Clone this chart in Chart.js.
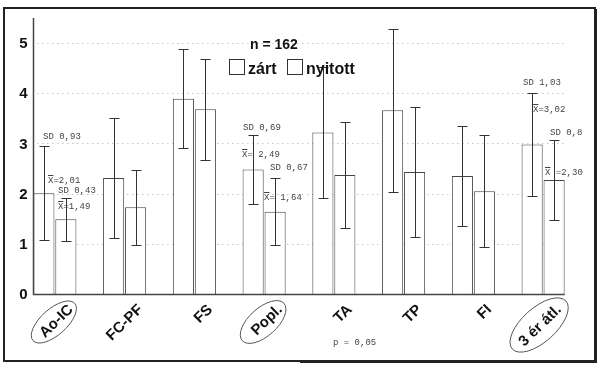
<!DOCTYPE html>
<html>
<head>
<meta charset="utf-8">
<script src="https://cdn.jsdelivr.net/npm/chart.js@4"></script>
<style>
  html, body { margin: 0; padding: 0; background: #fff; }
  #wrap { width: 600px; height: 371px; }
</style>
</head>
<body>
<div id="wrap"><canvas id="chart" width="600" height="371"></canvas></div>
<script>
const categories = ['Ao-IC', 'FC-PF', 'FS', 'Popl.', 'TA', 'TP', 'FI', '3 ér átl.'];
const circled = ['Ao-IC', 'Popl.', '3 ér átl.'];
const seriesNames = ['zárt', 'nyitott'];
const zartMean = [2.01, 2.31, 3.89, 2.48, 3.22, 3.66, 2.35, 2.98];
const zartSD = [0.93, 1.19, 0.99, 0.69, 1.31, 1.62, 1.00, 1.03];
const nyitottMean = [1.49, 1.73, 3.68, 1.64, 2.37, 2.43, 2.05, 2.27];
const nyitottSD = [0.43, 0.75, 1.01, 0.67, 1.05, 1.30, 1.12, 0.80];
const yTicks = [0, 1, 2, 3, 4, 5];
const sampleText = 'n = 162';
const pText = 'p = 0,05';

// text notes on the plot: [text, left x, middle y]; a leading "X" gets an overline
const notes = [
  ['SD 0,93', 43, 137], ['X=2,01', 48, 181], ['SD 0,43', 58, 191], ['X=1,49', 58, 207],
  ['SD 0,69', 243, 128], ['X= 2,49', 242, 155], ['SD 0,67', 270, 168], ['X= 1,64', 264, 198],
  ['SD 1,03', 523, 83], ['X=3,02', 533, 110], ['SD 0,8', 550, 133], ['X =2,30', 545, 173]
];
// ellipses round the circled labels: dx from tick, dy below axis, radii
const rings = { 'Ao-IC': [-1, 28, 28, 13], 'Popl.': [-1, 28, 28, 14], '3 ér átl.': [-4, 31, 36, 17] };

const mono = '"Liberation Mono", "DejaVu Sans Mono", monospace';
const sans = '"Liberation Sans", Arial, sans-serif';

const decor = {
  id: 'decor',
  beforeDatasetsDraw(chart) {
    const { ctx, scales: { y } } = chart;
    const first = chart.getDatasetMeta(0).data[0];
    const last = chart.getDatasetMeta(1).data[categories.length - 1];
    const l = first.x - first.width / 2, r = last.x + last.width / 2;
    ctx.save();
    ctx.strokeStyle = '#aaa';
    ctx.lineWidth = 1;
    ctx.setLineDash([1, 4]);
    yTicks.slice(1).forEach(v => {
      const py = Math.round(y.getPixelForValue(v)) + 0.5;
      ctx.beginPath(); ctx.moveTo(l + 4, py); ctx.lineTo(r, py); ctx.stroke();
    });
    ctx.restore();
  },
  afterDatasetsDraw(chart) {
    const { ctx, scales: { y } } = chart;
    const sets = [[zartMean, zartSD], [nyitottMean, nyitottSD]];
    ctx.save();
    ctx.strokeStyle = '#333';
    ctx.lineWidth = 1;
    sets.forEach(([m, sd], di) => {
      chart.getDatasetMeta(di).data.forEach((bar, i) => {
        const bx = Math.round(bar.x) + 0.5;
        const top = Math.round(y.getPixelForValue(m[i] + sd[i])) + 0.5;
        const bot = Math.round(y.getPixelForValue(m[i] - sd[i])) + 0.5;
        ctx.beginPath();
        ctx.moveTo(bx, top); ctx.lineTo(bx, bot);
        ctx.moveTo(bx - 5, top); ctx.lineTo(bx + 5, top);
        ctx.moveTo(bx - 5, bot); ctx.lineTo(bx + 5, bot);
        ctx.stroke();
      });
    });
    // axes
    const first = chart.getDatasetMeta(0).data[0];
    const last = chart.getDatasetMeta(1).data[categories.length - 1];
    const l = Math.round(first.x - first.width / 2) + 0.5, r = last.x + last.width / 2;
    const y0 = Math.round(y.getPixelForValue(0)) + 0.5;
    ctx.strokeStyle = '#444';
    ctx.lineWidth = 1.5;
    ctx.beginPath();
    ctx.moveTo(l, y.top); ctx.lineTo(l, y0); ctx.lineTo(r, y0);
    ctx.stroke();
    // y tick labels
    ctx.fillStyle = '#111';
    ctx.font = 'bold 15px ' + sans;
    ctx.textAlign = 'right';
    ctx.textBaseline = 'middle';
    y.ticks.forEach(t => ctx.fillText(String(t.value), l - 6, y.getPixelForValue(t.value) + 1));
    ctx.restore();
  },
  afterDraw(chart) {
    const { ctx, scales: { x } } = chart;
    ctx.save();
    // rings round labels
    ctx.strokeStyle = '#555';
    ctx.lineWidth = 1;
    categories.forEach((c, i) => {
      if (!circled.includes(c)) return;
      const [dx, dy, a, b] = rings[c];
      ctx.beginPath();
      ctx.ellipse(x.getPixelForTick(i) + dx, x.top + dy, a, b, -Math.PI / 4.3, 0, Math.PI * 2);
      ctx.stroke();
    });
    // notes
    ctx.fillStyle = '#444';
    ctx.font = '9px ' + mono;
    ctx.textBaseline = 'middle';
    notes.forEach(([t, nx, ny]) => {
      ctx.fillText(t, nx, ny);
      if (t[0] === 'X') {
        const w = ctx.measureText('X').width;
        ctx.fillRect(nx, ny - 6, w, 1);
      }
    });
    ctx.fillText(pText, 333, 343);
    // sample size and legend
    ctx.fillStyle = '#111';
    ctx.font = 'bold 14px ' + sans;
    ctx.textBaseline = 'alphabetic';
    ctx.fillText(sampleText, 250, 49);
    ctx.font = 'bold 16px ' + sans;
    const boxes = [229, 287];
    ctx.strokeStyle = '#333';
    seriesNames.forEach((s, i) => {
      ctx.strokeRect(boxes[i] + 0.5, 59.5, 15, 15);
      ctx.fillText(s, boxes[i] + 19, 74);
    });
    // frame with a heavier lower-right edge
    ctx.strokeStyle = '#222';
    ctx.lineWidth = 2;
    ctx.strokeRect(4, 8, 591, 353);
    ctx.fillStyle = '#222';
    ctx.fillRect(594, 9, 3, 354);
    ctx.fillRect(300, 360, 297, 3);
    ctx.restore();
  }
};

new Chart(document.getElementById('chart'), {
  type: 'bar',
  data: {
    labels: categories,
    datasets: [
      { label: seriesNames[0], data: zartMean },
      { label: seriesNames[1], data: nyitottMean }
    ].map(d => Object.assign(d, {
      backgroundColor: '#fff', borderColor: '#444', borderWidth: 1,
      categoryPercentage: 0.63, barPercentage: 0.96
    }))
  },
  options: {
    responsive: false,
    animation: false,
    events: [],
    layout: { padding: { top: 18, right: 22, bottom: 0, left: 0 } },
    plugins: { legend: { display: false }, tooltip: { enabled: false } },
    scales: {
      x: {
        grid: { display: false }, border: { display: false },
        afterFit(s) { s.height = 77; },
        ticks: {
          autoSkip: false, minRotation: 44, maxRotation: 44,
          labelOffset: 16, padding: -1, color: '#111',
          font: { family: sans, size: 15, weight: 'bold' }
        }
      },
      y: {
        min: 0, max: 5.5,
        grid: { display: false, drawTicks: false }, border: { display: false },
        afterFit(s) { s.width = 20; },
        afterBuildTicks(s) { s.ticks = yTicks.map(v => ({ value: v })); },
        ticks: { display: false }
      }
    }
  },
  plugins: [decor]
});
</script>
</body>
</html>
